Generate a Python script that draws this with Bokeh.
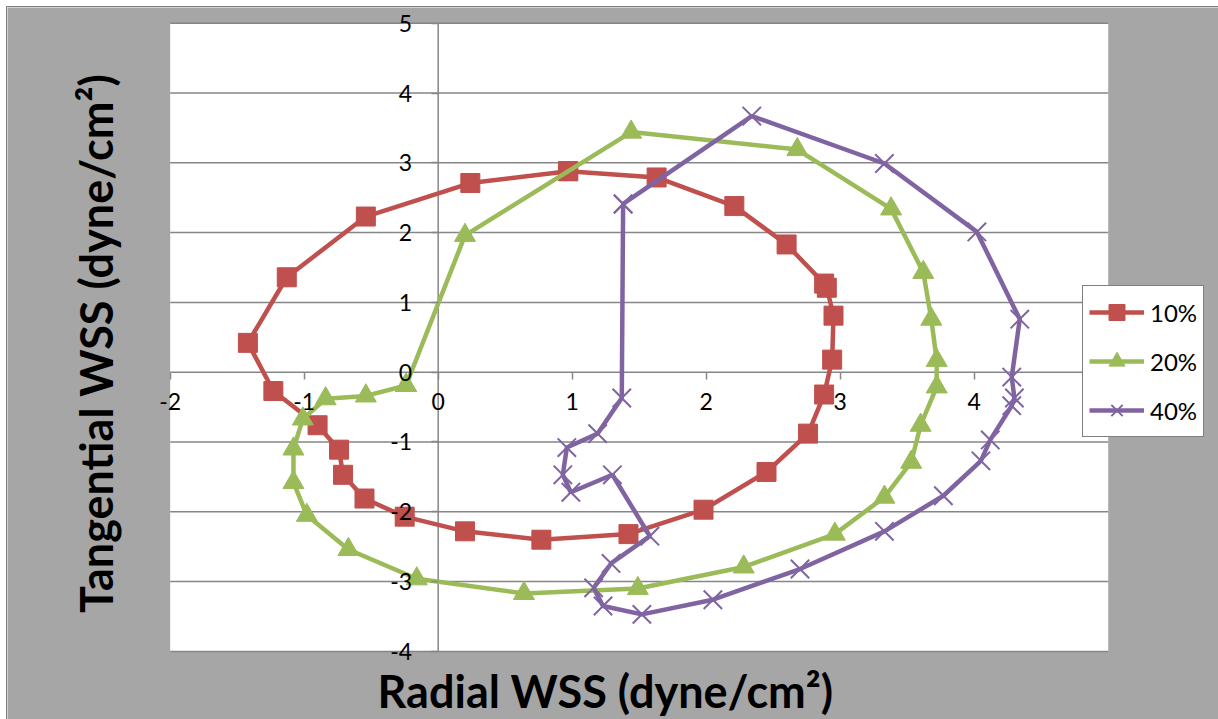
from math import pi
from bokeh.plotting import figure
from bokeh.models import Range1d, FixedTicker, Legend, LegendItem, Label, BoxAnnotation
from bokeh.embed import file_html
from bokeh.resources import INLINE

# ---- data ----
x_ticks = [-2, -1, 0, 1, 2, 3, 4, 5]
y_ticks = [-4, -3, -2, -1, 0, 1, 2, 3, 4, 5]

series_names = ["10%", "20%", "40%"]

x10 = [0.97, 1.63, 2.21, 2.60, 2.88, 2.90, 2.95, 2.94, 2.88, 2.76, 2.45, 1.98, 1.42,
       0.77, 0.20, -0.25, -0.55, -0.71, -0.74, -0.90, -1.23, -1.42, -1.13, -0.54, 0.24, 0.97]
y10 = [2.88, 2.79, 2.38, 1.83, 1.27, 1.21, 0.81, 0.18, -0.32, -0.88, -1.43, -1.97, -2.32,
       -2.40, -2.28, -2.07, -1.81, -1.47, -1.11, -0.76, -0.27, 0.42, 1.36, 2.23, 2.71, 2.88]

x20 = [-0.24, 0.20, 1.44, 2.68, 3.38, 3.62, 3.68, 3.72, 3.72, 3.60, 3.53, 3.33, 2.96,
       2.28, 1.49, 0.64, -0.16, -0.67, -0.98, -1.08, -1.08, -1.01, -0.84, -0.54, -0.24]
y20 = [-0.19, 1.96, 3.44, 3.19, 2.34, 1.43, 0.76, 0.17, -0.21, -0.76, -1.29, -1.79, -2.32,
       -2.79, -3.10, -3.17, -2.96, -2.54, -2.05, -1.58, -1.10, -0.67, -0.38, -0.34, -0.19]

x40 = [1.38, 2.34, 3.33, 4.02, 4.34, 4.28, 4.30, 4.28, 4.12, 4.05, 3.77, 3.33, 2.70,
       2.05, 1.52, 1.23, 1.16, 1.29, 1.58, 1.30, 0.99, 0.93, 0.96, 1.19, 1.37, 1.38]
y40 = [2.41, 3.67, 2.99, 2.01, 0.76, -0.07, -0.37, -0.48, -0.97, -1.27, -1.77, -2.28, -2.82,
       -3.26, -3.47, -3.35, -3.09, -2.74, -2.35, -1.47, -1.72, -1.47, -1.08, -0.88, -0.37, 2.41]

x_min, x_max = -2, 5     # plot area limits (axis bounds)
y_min, y_max = -4, 5

colors = ["#C0504D", "#9BBB59", "#8064A2"]
FONT = "Lato"
GRID = "#868686"
BG = "#A6A6A6"

# frame spans the whole figure; ranges chosen so the plot area sits where it does in the reference
p = figure(width=1211, height=712, output_backend="svg", toolbar_location=None,
           x_range=Range1d(-3.214, 5.823), y_range=Range1d(-4.976, 5.225),
           min_border=0)
p.styles = {"margin-left": "7px", "margin-top": "7px", "outline": "1px solid #7f7f7f"}
p.border_fill_color = BG
p.background_fill_color = BG
p.outline_line_color = None
p.xgrid.visible = False
p.ygrid.visible = False

# white plot area
p.add_layout(BoxAnnotation(left=x_min, right=x_max, bottom=y_min, top=y_max,
                           fill_color="white", fill_alpha=1.0, line_color=None,
                           level="underlay"))

# horizontal gridlines and the vertical axis line (under the data)
p.segment(x0=[x_min] * len(y_ticks), x1=[x_max] * len(y_ticks), y0=y_ticks, y1=y_ticks,
          line_color=GRID, line_width=1.5)
p.segment(x0=[0], x1=[0], y0=[y_min], y1=[y_max], line_color=GRID, line_width=1.5)

p.xaxis.ticker = FixedTicker(ticks=x_ticks)
p.yaxis.ticker = FixedTicker(ticks=y_ticks)
p.xaxis.bounds = (x_min, x_max)
p.yaxis.bounds = (y_min, y_max)
p.xaxis.major_label_overrides = {t: str(t) for t in x_ticks}
p.yaxis.major_label_overrides = {t: str(t) for t in y_ticks}

for ax in (p.xaxis, p.yaxis):
    ax.fixed_location = 0
    ax.axis_line_color = None
    ax.major_tick_line_color = GRID
    ax.major_tick_line_width = 1.5
    ax.major_tick_in = 0
    ax.major_tick_out = 7
    ax.minor_tick_line_color = None
    ax.major_label_text_font = FONT
    ax.major_label_text_font_size = "23px"
    ax.major_label_text_color = "black"
p.xaxis.major_label_standoff = 14
p.yaxis.major_label_standoff = 19

xs = [x10, x20, x40]
ys = [y10, y20, y40]
markers = ["square", "triangle", "x"]
sizes = [19, 21, 26]
items = []
for name, x, y, c, m, s in zip(series_names, xs, ys, colors, markers, sizes):
    lr = p.line(x, y, line_color=c, line_width=4.5)
    if m == "x":
        sr = p.scatter(x, y, marker=m, size=s, line_color=c, line_width=2)
    else:
        sr = p.scatter(x, y, marker=m, size=s, fill_color=c, line_color=c)
    items.append(LegendItem(label=name, renderers=[lr, sr]))

legend = Legend(items=items, location=(1075, 282), glyph_width=55, glyph_height=40,
                label_height=20, spacing=9, padding=6, label_standoff=6, margin=0,
                label_text_font=FONT, label_text_font_size="24px", label_text_color="black",
                border_line_color="black", border_line_width=1.5,
                background_fill_color="white", background_fill_alpha=1.0)
p.add_layout(legend)

p.add_layout(Label(x=598, y=29, x_units="screen", y_units="screen",
                   text="Radial WSS (dyne/cm²)", text_font=FONT, text_font_style="bold",
                   text_font_size="45px", text_color="black",
                   text_align="center", text_baseline="middle"))
p.add_layout(Label(x=88, y=376, x_units="screen", y_units="screen", angle=pi / 2,
                   text="Tangential WSS (dyne/cm²)", text_font=FONT, text_font_style="bold",
                   text_font_size="45px", text_color="black",
                   text_align="center", text_baseline="middle"))

open("out.html", "w").write(file_html(p, INLINE))
